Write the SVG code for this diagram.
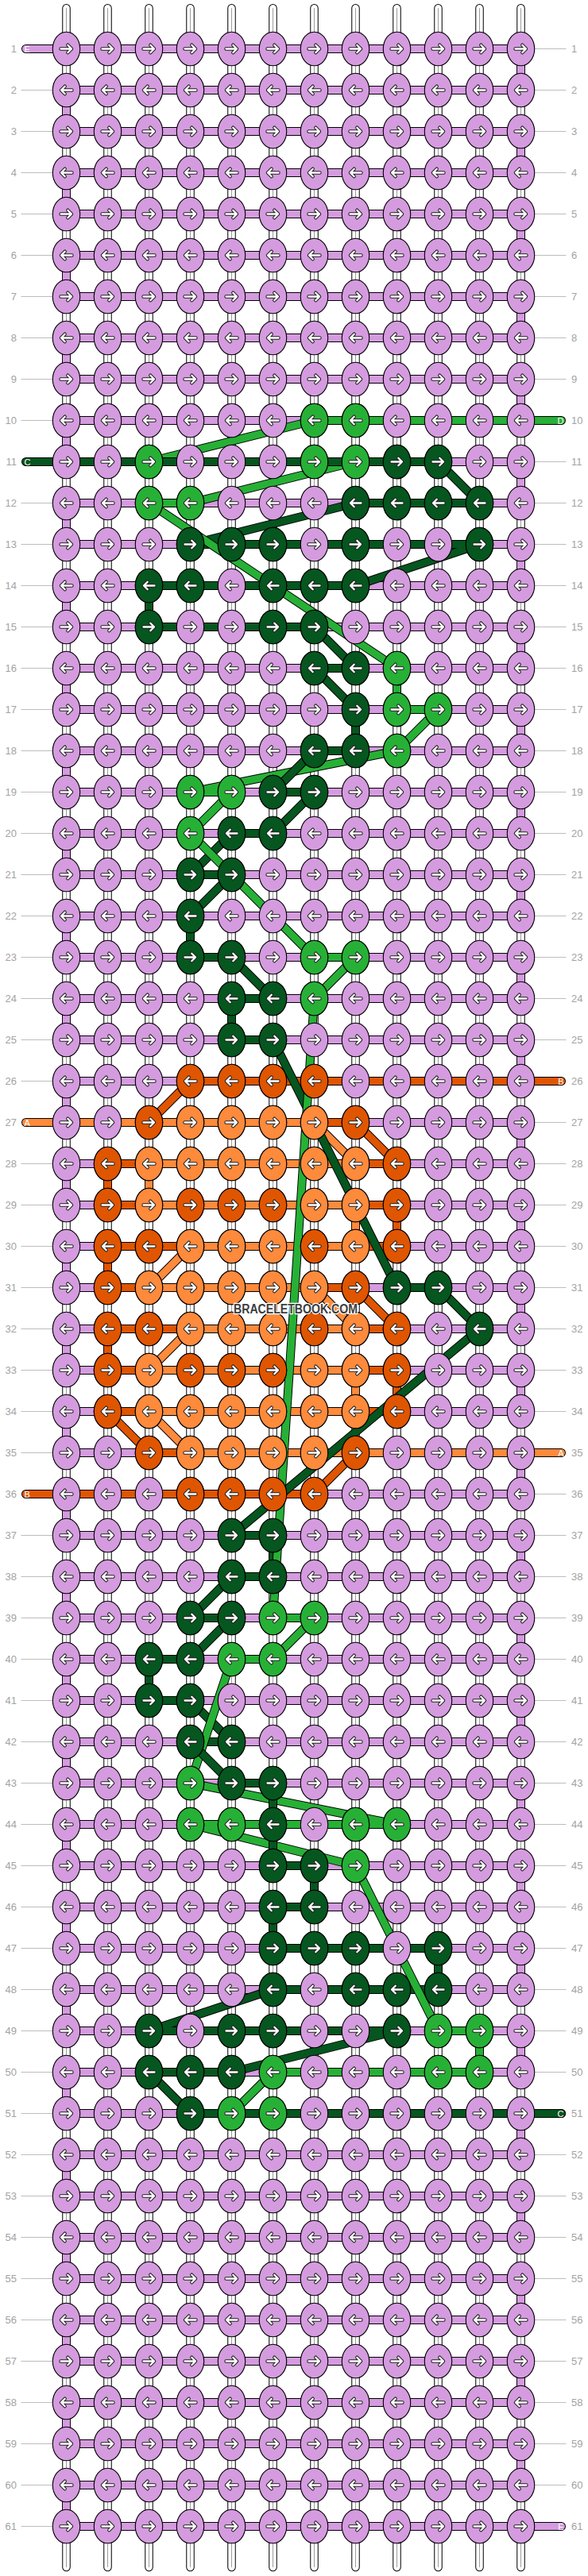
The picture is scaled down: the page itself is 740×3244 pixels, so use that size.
<svg xmlns="http://www.w3.org/2000/svg" width="740" height="3244" viewBox="0 0 740 3244">
<style>
.o{fill:none;stroke:#000;stroke-width:.2115;stroke-linecap:round;stroke-linejoin:round}
.t{fill:none;stroke-width:.175;stroke-linecap:round;stroke-linejoin:round}
.sP{stroke:#d59bdf}.sL{stroke:#27b036}.sG{stroke:#05561f}.sO{stroke:#e05500}.sY{stroke:#fe8a3c}
.P{fill:#d59bdf}.L{fill:#27b036}.G{fill:#05561f}.O{fill:#e05500}.Y{fill:#fe8a3c}
.ao{fill:none;stroke:#222;stroke-width:4.4;stroke-linecap:round;stroke-linejoin:round}
.ai{fill:none;stroke:#fff;stroke-width:2.3;stroke-linecap:round;stroke-linejoin:round}
.n{font-family:"Liberation Sans",Arial,sans-serif;font-size:13px;fill:#a3a3a3}
.c{font-family:"Liberation Sans",Arial,sans-serif;font-size:11px;fill:#fff}
</style>
<defs>
<pattern id="hp" width="740" height="52" y="61" patternUnits="userSpaceOnUse"><rect width="740" height="1" fill="#bdbdbd"/></pattern>
<g id="kr"><g transform="scale(.019231)"><ellipse rx="17.2" ry="21.3" stroke="#000" stroke-width="1.1"/><path class="ao" d="M-7 0H6.5M1.8-4.8L6.5 0 1.8 4.8"/><path class="ai" d="M-7 0H6.5M1.8-4.8L6.5 0 1.8 4.8"/></g></g>
<g id="kl"><g transform="scale(.019231)"><ellipse rx="17.2" ry="21.3" stroke="#000" stroke-width="1.1"/><path class="ao" d="M7 0H-6.5M-1.8-4.8L-6.5 0-1.8 4.8"/><path class="ai" d="M7 0H-6.5M-1.8-4.8L-6.5 0-1.8 4.8"/></g></g>
<g id="RR" fill="#d59bdf"><use href="#kr" x="1"/><use href="#kr" x="2"/><use href="#kr" x="3"/><use href="#kr" x="4"/><use href="#kr" x="5"/><use href="#kr" x="6"/><use href="#kr" x="7"/><use href="#kr" x="8"/><use href="#kr" x="9"/><use href="#kr" x="10"/><use href="#kr" x="11"/><use href="#kr" x="12"/></g>
<g id="RL" fill="#d59bdf"><use href="#kl" x="1"/><use href="#kl" x="2"/><use href="#kl" x="3"/><use href="#kl" x="4"/><use href="#kl" x="5"/><use href="#kl" x="6"/><use href="#kl" x="7"/><use href="#kl" x="8"/><use href="#kl" x="9"/><use href="#kl" x="10"/><use href="#kl" x="11"/><use href="#kl" x="12"/></g>
<path id="str" fill="none" d="M1 .015V61.99M2 .015V61.99M3 .015V61.99M4 .015V61.99M5 .015V61.99M6 .015V61.99M7 .015V61.99M8 .015V61.99M9 .015V61.99M10 .015V61.99M11 .015V61.99M12 .015V61.99"/>
<path id="E" d="M.02 1H12V2H1V3H12V4H1V5H12V6H1V7H12V8H1V9H12V10H1V11H12V12H1V13H12V14H1V15H12V16H1V17H12V18H1V19H12V20H1V21H12V22H1V23H12V24H1V25H12V26H1V27H12V28H1V29H12V30H1V31H12V32H1V33H12V34H1V35H12V36H1V37H12V38H1V39H12V40H1V41H12V42H1V43H12V44H1V45H12V46H1V47H12V48H1V49H12V50H1V51H12V52H1V53H12V54H1V55H12V56H1V57H12V58H1V59H12V60H1V61H12.98"/>
<path id="Da" d="M12.98 10H7L3 11H8L4 12H3"/>
<path id="Ca" d="M.02 11H10L11 12H8L4 13H11L8 14H3V15H7"/>
<path id="Db" d="M3 12L9 16V17H10L9 18L4 19H5L4 20"/>
<path id="Cb" d="M7 15L8 16H7L8 17V18H7L6 19H7L6 20H5L4 21H5L4 22V23H5L6 24H5V25H6"/>
<path id="B" d="M12.98 26H4L3 27H8L9 28H2V29H9V30H2V31H8L9 32H2V33H9V34H2L3 35H8L7 36H.02"/>
<path id="A" d="M.02 27H7L8 28H3V29H8V30H4L3 31H7L8 32H4L3 33H8V34H3L4 35H12.98"/>
<path id="Cc" d="M6 25L9 31H10L11 32L5 37H6V38H5"/>
<path id="Dc" d="M4 20L7 23H8L7 24L6 39H7L6 40H5"/>
<path id="Cd" d="M5 38L4 39H5L4 40H3V41H4L5 42H4"/>
<path id="Dd" d="M5 40L4 43L9 44H4L8 45"/>
<path id="Ce" d="M4 42L5 43H6V45H7V46H6V47H10V48H6"/>
<path id="De" d="M8 45L10 49H11V50H6L5 51H12.98"/>
<path id="Cf" d="M6 48L3 49H9L5 50H3L4 51H12.98"/>
</defs>
<rect width="740" height="3244" fill="#fff"/>
<g id="label-lines">
<rect x="26.5" y="60" width="57" height="3124" fill="url(#hp)"/>
<rect x="656" y="60" width="56.5" height="3124" fill="url(#hp)"/>
</g>
<g transform="translate(31.5 9.5) scale(52)">
<g id="strings">
<use href="#str" stroke="#000" stroke-width=".202" stroke-linecap="round"/>
<use href="#str" stroke="#fff" stroke-width=".163" stroke-linecap="round"/>
<use href="#str" stroke="#9a9a9a" stroke-width=".019"/>
</g>
<g id="connectors">
<use href="#E" class="o"/><use href="#E" class="t sP"/>
<use href="#Da" class="o"/><use href="#Da" class="t sL"/>
<use href="#Ca" class="o"/><use href="#Ca" class="t sG"/>
<use href="#Db" class="o"/><use href="#Db" class="t sL"/>
<use href="#Cb" class="o"/><use href="#Cb" class="t sG"/>
<use href="#B" class="o"/><use href="#B" class="t sO"/>
<use href="#A" class="o"/><use href="#A" class="t sY"/>
<use href="#Cc" class="o"/><use href="#Cc" class="t sG"/>
<use href="#Dc" class="o"/><use href="#Dc" class="t sL"/>
<use href="#Cd" class="o"/><use href="#Cd" class="t sG"/>
<use href="#Dd" class="o"/><use href="#Dd" class="t sL"/>
<use href="#Ce" class="o"/><use href="#Ce" class="t sG"/>
<use href="#De" class="o"/><use href="#De" class="t sL"/>
<use href="#Cf" class="o"/><use href="#Cf" class="t sG"/>
</g>
<g id="knots">
<g id="row-1" transform="translate(0 1)"><use href="#RR"/></g>
<g id="row-2" transform="translate(0 2)"><use href="#RL"/></g>
<g id="row-3" transform="translate(0 3)"><use href="#RR"/></g>
<g id="row-4" transform="translate(0 4)"><use href="#RL"/></g>
<g id="row-5" transform="translate(0 5)"><use href="#RR"/></g>
<g id="row-6" transform="translate(0 6)"><use href="#RL"/></g>
<g id="row-7" transform="translate(0 7)"><use href="#RR"/></g>
<g id="row-8" transform="translate(0 8)"><use href="#RL"/></g>
<g id="row-9" transform="translate(0 9)"><use href="#RR"/></g>
<g id="row-10" transform="translate(0 10)"><use href="#RL"/><use href="#kl" x="7" class="L"/><use href="#kl" x="8" class="L"/></g>
<g id="row-11" transform="translate(0 11)"><use href="#RR"/><use href="#kr" x="3" class="L"/><use href="#kr" x="7" class="L"/><use href="#kr" x="8" class="L"/><use href="#kr" x="9" class="G"/><use href="#kr" x="10" class="G"/></g>
<g id="row-12" transform="translate(0 12)"><use href="#RL"/><use href="#kl" x="3" class="L"/><use href="#kl" x="4" class="L"/><use href="#kl" x="8" class="G"/><use href="#kl" x="9" class="G"/><use href="#kl" x="10" class="G"/><use href="#kl" x="11" class="G"/></g>
<g id="row-13" transform="translate(0 13)"><use href="#RR"/><use href="#kr" x="4" class="G"/><use href="#kr" x="5" class="G"/><use href="#kr" x="6" class="G"/><use href="#kr" x="8" class="G"/><use href="#kr" x="11" class="G"/></g>
<g id="row-14" transform="translate(0 14)"><use href="#RL"/><use href="#kl" x="3" class="G"/><use href="#kl" x="4" class="G"/><use href="#kl" x="6" class="G"/><use href="#kl" x="7" class="G"/><use href="#kl" x="8" class="G"/></g>
<g id="row-15" transform="translate(0 15)"><use href="#RR"/><use href="#kr" x="3" class="G"/><use href="#kr" x="6" class="G"/><use href="#kr" x="7" class="G"/></g>
<g id="row-16" transform="translate(0 16)"><use href="#RL"/><use href="#kl" x="7" class="G"/><use href="#kl" x="8" class="G"/><use href="#kl" x="9" class="L"/></g>
<g id="row-17" transform="translate(0 17)"><use href="#RR"/><use href="#kr" x="8" class="G"/><use href="#kr" x="9" class="L"/><use href="#kr" x="10" class="L"/></g>
<g id="row-18" transform="translate(0 18)"><use href="#RL"/><use href="#kl" x="7" class="G"/><use href="#kl" x="8" class="G"/><use href="#kl" x="9" class="L"/></g>
<g id="row-19" transform="translate(0 19)"><use href="#RR"/><use href="#kr" x="4" class="L"/><use href="#kr" x="5" class="L"/><use href="#kr" x="6" class="G"/><use href="#kr" x="7" class="G"/></g>
<g id="row-20" transform="translate(0 20)"><use href="#RL"/><use href="#kl" x="4" class="L"/><use href="#kl" x="5" class="G"/><use href="#kl" x="6" class="G"/></g>
<g id="row-21" transform="translate(0 21)"><use href="#RR"/><use href="#kr" x="4" class="G"/><use href="#kr" x="5" class="G"/></g>
<g id="row-22" transform="translate(0 22)"><use href="#RL"/><use href="#kl" x="4" class="G"/></g>
<g id="row-23" transform="translate(0 23)"><use href="#RR"/><use href="#kr" x="4" class="G"/><use href="#kr" x="5" class="G"/><use href="#kr" x="7" class="L"/><use href="#kr" x="8" class="L"/></g>
<g id="row-24" transform="translate(0 24)"><use href="#RL"/><use href="#kl" x="5" class="G"/><use href="#kl" x="6" class="G"/><use href="#kl" x="7" class="L"/></g>
<g id="row-25" transform="translate(0 25)"><use href="#RR"/><use href="#kr" x="5" class="G"/><use href="#kr" x="6" class="G"/></g>
<g id="row-26" transform="translate(0 26)"><use href="#RL"/><use href="#kl" x="4" class="O"/><use href="#kl" x="5" class="O"/><use href="#kl" x="6" class="O"/><use href="#kl" x="7" class="O"/></g>
<g id="row-27" transform="translate(0 27)"><use href="#RR"/><use href="#kr" x="3" class="O"/><use href="#kr" x="4" class="Y"/><use href="#kr" x="5" class="Y"/><use href="#kr" x="6" class="Y"/><use href="#kr" x="7" class="Y"/><use href="#kr" x="8" class="O"/></g>
<g id="row-28" transform="translate(0 28)"><use href="#RL"/><use href="#kl" x="2" class="O"/><use href="#kl" x="3" class="Y"/><use href="#kl" x="4" class="Y"/><use href="#kl" x="5" class="Y"/><use href="#kl" x="6" class="Y"/><use href="#kl" x="7" class="Y"/><use href="#kl" x="8" class="Y"/><use href="#kl" x="9" class="O"/></g>
<g id="row-29" transform="translate(0 29)"><use href="#RR"/><use href="#kr" x="2" class="O"/><use href="#kr" x="3" class="Y"/><use href="#kr" x="4" class="O"/><use href="#kr" x="5" class="O"/><use href="#kr" x="6" class="O"/><use href="#kr" x="7" class="Y"/><use href="#kr" x="8" class="Y"/><use href="#kr" x="9" class="O"/></g>
<g id="row-30" transform="translate(0 30)"><use href="#RL"/><use href="#kl" x="2" class="O"/><use href="#kl" x="3" class="O"/><use href="#kl" x="4" class="Y"/><use href="#kl" x="5" class="Y"/><use href="#kl" x="6" class="Y"/><use href="#kl" x="7" class="O"/><use href="#kl" x="8" class="Y"/><use href="#kl" x="9" class="O"/></g>
<g id="row-31" transform="translate(0 31)"><use href="#RR"/><use href="#kr" x="2" class="O"/><use href="#kr" x="3" class="Y"/><use href="#kr" x="4" class="Y"/><use href="#kr" x="5" class="Y"/><use href="#kr" x="6" class="Y"/><use href="#kr" x="7" class="Y"/><use href="#kr" x="8" class="O"/><use href="#kr" x="9" class="G"/><use href="#kr" x="10" class="G"/></g>
<g id="row-32" transform="translate(0 32)"><use href="#RL"/><use href="#kl" x="2" class="O"/><use href="#kl" x="3" class="O"/><use href="#kl" x="4" class="Y"/><use href="#kl" x="5" class="Y"/><use href="#kl" x="6" class="Y"/><use href="#kl" x="7" class="O"/><use href="#kl" x="8" class="Y"/><use href="#kl" x="9" class="O"/><use href="#kl" x="11" class="G"/></g>
<g id="row-33" transform="translate(0 33)"><use href="#RR"/><use href="#kr" x="2" class="O"/><use href="#kr" x="3" class="Y"/><use href="#kr" x="4" class="O"/><use href="#kr" x="5" class="O"/><use href="#kr" x="6" class="O"/><use href="#kr" x="7" class="Y"/><use href="#kr" x="8" class="Y"/><use href="#kr" x="9" class="O"/></g>
<g id="row-34" transform="translate(0 34)"><use href="#RL"/><use href="#kl" x="2" class="O"/><use href="#kl" x="3" class="Y"/><use href="#kl" x="4" class="Y"/><use href="#kl" x="5" class="Y"/><use href="#kl" x="6" class="Y"/><use href="#kl" x="7" class="Y"/><use href="#kl" x="8" class="Y"/><use href="#kl" x="9" class="O"/></g>
<g id="row-35" transform="translate(0 35)"><use href="#RR"/><use href="#kr" x="3" class="O"/><use href="#kr" x="4" class="Y"/><use href="#kr" x="5" class="Y"/><use href="#kr" x="6" class="Y"/><use href="#kr" x="7" class="Y"/><use href="#kr" x="8" class="O"/></g>
<g id="row-36" transform="translate(0 36)"><use href="#RL"/><use href="#kl" x="4" class="O"/><use href="#kl" x="5" class="O"/><use href="#kl" x="6" class="O"/><use href="#kl" x="7" class="O"/></g>
<g id="row-37" transform="translate(0 37)"><use href="#RR"/><use href="#kr" x="5" class="G"/><use href="#kr" x="6" class="G"/></g>
<g id="row-38" transform="translate(0 38)"><use href="#RL"/><use href="#kl" x="5" class="G"/><use href="#kl" x="6" class="G"/></g>
<g id="row-39" transform="translate(0 39)"><use href="#RR"/><use href="#kr" x="4" class="G"/><use href="#kr" x="5" class="G"/><use href="#kr" x="6" class="L"/><use href="#kr" x="7" class="L"/></g>
<g id="row-40" transform="translate(0 40)"><use href="#RL"/><use href="#kl" x="3" class="G"/><use href="#kl" x="4" class="G"/><use href="#kl" x="5" class="L"/><use href="#kl" x="6" class="L"/></g>
<g id="row-41" transform="translate(0 41)"><use href="#RR"/><use href="#kr" x="3" class="G"/><use href="#kr" x="4" class="G"/></g>
<g id="row-42" transform="translate(0 42)"><use href="#RL"/><use href="#kl" x="4" class="G"/><use href="#kl" x="5" class="G"/></g>
<g id="row-43" transform="translate(0 43)"><use href="#RR"/><use href="#kr" x="4" class="L"/><use href="#kr" x="5" class="G"/><use href="#kr" x="6" class="G"/></g>
<g id="row-44" transform="translate(0 44)"><use href="#RL"/><use href="#kl" x="4" class="L"/><use href="#kl" x="5" class="L"/><use href="#kl" x="6" class="G"/><use href="#kl" x="8" class="L"/><use href="#kl" x="9" class="L"/></g>
<g id="row-45" transform="translate(0 45)"><use href="#RR"/><use href="#kr" x="6" class="G"/><use href="#kr" x="7" class="G"/><use href="#kr" x="8" class="L"/></g>
<g id="row-46" transform="translate(0 46)"><use href="#RL"/><use href="#kl" x="6" class="G"/><use href="#kl" x="7" class="G"/></g>
<g id="row-47" transform="translate(0 47)"><use href="#RR"/><use href="#kr" x="6" class="G"/><use href="#kr" x="7" class="G"/><use href="#kr" x="8" class="G"/><use href="#kr" x="10" class="G"/></g>
<g id="row-48" transform="translate(0 48)"><use href="#RL"/><use href="#kl" x="6" class="G"/><use href="#kl" x="8" class="G"/><use href="#kl" x="9" class="G"/><use href="#kl" x="10" class="G"/></g>
<g id="row-49" transform="translate(0 49)"><use href="#RR"/><use href="#kr" x="3" class="G"/><use href="#kr" x="5" class="G"/><use href="#kr" x="6" class="G"/><use href="#kr" x="9" class="G"/><use href="#kr" x="10" class="L"/><use href="#kr" x="11" class="L"/></g>
<g id="row-50" transform="translate(0 50)"><use href="#RL"/><use href="#kl" x="3" class="G"/><use href="#kl" x="4" class="G"/><use href="#kl" x="5" class="G"/><use href="#kl" x="6" class="L"/><use href="#kl" x="10" class="L"/><use href="#kl" x="11" class="L"/></g>
<g id="row-51" transform="translate(0 51)"><use href="#RR"/><use href="#kr" x="4" class="G"/><use href="#kr" x="5" class="L"/><use href="#kr" x="6" class="L"/></g>
<g id="row-52" transform="translate(0 52)"><use href="#RL"/></g>
<g id="row-53" transform="translate(0 53)"><use href="#RR"/></g>
<g id="row-54" transform="translate(0 54)"><use href="#RL"/></g>
<g id="row-55" transform="translate(0 55)"><use href="#RR"/></g>
<g id="row-56" transform="translate(0 56)"><use href="#RL"/></g>
<g id="row-57" transform="translate(0 57)"><use href="#RR"/></g>
<g id="row-58" transform="translate(0 58)"><use href="#RL"/></g>
<g id="row-59" transform="translate(0 59)"><use href="#RR"/></g>
<g id="row-60" transform="translate(0 60)"><use href="#RL"/></g>
<g id="row-61" transform="translate(0 61)"><use href="#RR"/></g>
</g>
</g>
<g id="thread-letters">
<g class="c"><text x="30.5" y="65.5">E</text><text x="30.5" y="585.5">C</text><text x="30.5" y="1417.5">A</text><text x="30.5" y="1885.5">B</text></g>
<g class="c" text-anchor="end"><text x="709.5" y="533.5">D</text><text x="709.5" y="1365.5">B</text><text x="709.5" y="1833.5">A</text><text x="709.5" y="2665.5">C</text><text x="709.5" y="3185.5">E</text></g>
</g>
<g id="row-numbers-left" class="n" text-anchor="end">
<text x="21" y="66">1</text><text x="21" y="118">2</text><text x="21" y="170">3</text><text x="21" y="222">4</text><text x="21" y="274">5</text><text x="21" y="326">6</text><text x="21" y="378">7</text><text x="21" y="430">8</text><text x="21" y="482">9</text><text x="21" y="534">10</text>
<text x="21" y="586">11</text><text x="21" y="638">12</text><text x="21" y="690">13</text><text x="21" y="742">14</text><text x="21" y="794">15</text><text x="21" y="846">16</text><text x="21" y="898">17</text><text x="21" y="950">18</text><text x="21" y="1002">19</text><text x="21" y="1054">20</text>
<text x="21" y="1106">21</text><text x="21" y="1158">22</text><text x="21" y="1210">23</text><text x="21" y="1262">24</text><text x="21" y="1314">25</text><text x="21" y="1366">26</text><text x="21" y="1418">27</text><text x="21" y="1470">28</text><text x="21" y="1522">29</text><text x="21" y="1574">30</text>
<text x="21" y="1626">31</text><text x="21" y="1678">32</text><text x="21" y="1730">33</text><text x="21" y="1782">34</text><text x="21" y="1834">35</text><text x="21" y="1886">36</text><text x="21" y="1938">37</text><text x="21" y="1990">38</text><text x="21" y="2042">39</text><text x="21" y="2094">40</text>
<text x="21" y="2146">41</text><text x="21" y="2198">42</text><text x="21" y="2250">43</text><text x="21" y="2302">44</text><text x="21" y="2354">45</text><text x="21" y="2406">46</text><text x="21" y="2458">47</text><text x="21" y="2510">48</text><text x="21" y="2562">49</text><text x="21" y="2614">50</text>
<text x="21" y="2666">51</text><text x="21" y="2718">52</text><text x="21" y="2770">53</text><text x="21" y="2822">54</text><text x="21" y="2874">55</text><text x="21" y="2926">56</text><text x="21" y="2978">57</text><text x="21" y="3030">58</text><text x="21" y="3082">59</text><text x="21" y="3134">60</text>
<text x="21" y="3186">61</text>
</g>
<g id="row-numbers-right" class="n">
<text x="719" y="66">1</text><text x="719" y="118">2</text><text x="719" y="170">3</text><text x="719" y="222">4</text><text x="719" y="274">5</text><text x="719" y="326">6</text><text x="719" y="378">7</text><text x="719" y="430">8</text><text x="719" y="482">9</text><text x="719" y="534">10</text>
<text x="719" y="586">11</text><text x="719" y="638">12</text><text x="719" y="690">13</text><text x="719" y="742">14</text><text x="719" y="794">15</text><text x="719" y="846">16</text><text x="719" y="898">17</text><text x="719" y="950">18</text><text x="719" y="1002">19</text><text x="719" y="1054">20</text>
<text x="719" y="1106">21</text><text x="719" y="1158">22</text><text x="719" y="1210">23</text><text x="719" y="1262">24</text><text x="719" y="1314">25</text><text x="719" y="1366">26</text><text x="719" y="1418">27</text><text x="719" y="1470">28</text><text x="719" y="1522">29</text><text x="719" y="1574">30</text>
<text x="719" y="1626">31</text><text x="719" y="1678">32</text><text x="719" y="1730">33</text><text x="719" y="1782">34</text><text x="719" y="1834">35</text><text x="719" y="1886">36</text><text x="719" y="1938">37</text><text x="719" y="1990">38</text><text x="719" y="2042">39</text><text x="719" y="2094">40</text>
<text x="719" y="2146">41</text><text x="719" y="2198">42</text><text x="719" y="2250">43</text><text x="719" y="2302">44</text><text x="719" y="2354">45</text><text x="719" y="2406">46</text><text x="719" y="2458">47</text><text x="719" y="2510">48</text><text x="719" y="2562">49</text><text x="719" y="2614">50</text>
<text x="719" y="2666">51</text><text x="719" y="2718">52</text><text x="719" y="2770">53</text><text x="719" y="2822">54</text><text x="719" y="2874">55</text><text x="719" y="2926">56</text><text x="719" y="2978">57</text><text x="719" y="3030">58</text><text x="719" y="3082">59</text><text x="719" y="3134">60</text>
<text x="719" y="3186">61</text>
</g>
<text id="watermark" x="372" y="1653.5" text-anchor="middle" textLength="156" lengthAdjust="spacingAndGlyphs" font-family="Liberation Sans,Arial,sans-serif" font-weight="bold" font-size="16" fill="#3d3d3d" stroke="#fff" stroke-width="2.5" stroke-linejoin="round" paint-order="stroke">BRACELETBOOK.COM</text>
</svg>
